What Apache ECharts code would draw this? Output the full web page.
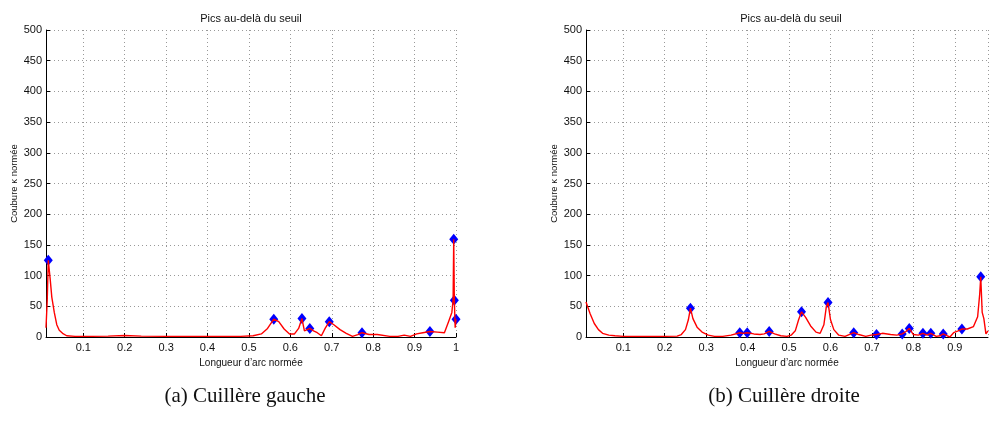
<!DOCTYPE html>
<html>
<head>
<meta charset="utf-8">
<script src="https://cdn.jsdelivr.net/npm/echarts@6/dist/echarts.min.js"></script>
<style>
  html, body { margin: 0; padding: 0; background: #fff; }
  #chart { width: 990px; height: 421px; }
</style>
</head>
<body>
<div id="chart"></div>
<script>
// Cuillère gauche : courbe de courbure normée
const leftArc = [0.010, 0.013, 0.0155, 0.020, 0.024, 0.030, 0.036, 0.042, 0.050, 0.060, 0.080, 0.120, 0.160, 0.200, 0.240, 0.300, 0.400, 0.480, 0.510, 0.530, 0.545, 0.560, 0.572, 0.585, 0.598, 0.610, 0.620, 0.628, 0.634, 0.638, 0.647, 0.656, 0.665, 0.675, 0.684, 0.694, 0.705, 0.720, 0.735, 0.750, 0.763, 0.773, 0.790, 0.810, 0.840, 0.860, 0.875, 0.890, 0.905, 0.920, 0.937, 0.955, 0.972, 0.982, 0.990, 0.993, 0.9945, 0.996, 0.998, 1.0]
const leftCurv = [15, 60, 125, 95, 65, 40, 20, 11, 6, 2, 1, 1, 1.5, 2.5, 1.5, 1, 1, 1, 2, 5, 14, 29, 25, 13, 5, 5, 14, 30, 10, 8, 14, 10, 7, 2, 14, 25, 20, 12, 6, 1, 4, 7, 4, 4, 1, 1, 3, 1, 5, 7, 9, 8, 7, 25, 40, 60, 159, 60, 15, 29]
const leftPeakArc = [0.0155, 0.560, 0.628, 0.647, 0.694, 0.773, 0.937, 0.9945, 0.996, 1.0]
const leftPeakCurv = [125, 29, 30, 14, 25, 7, 9, 159, 60, 29]

// Cuillère droite
const rightArc = [0.010, 0.020, 0.030, 0.040, 0.050, 0.065, 0.080, 0.100, 0.150, 0.200, 0.230, 0.240, 0.250, 0.257, 0.262, 0.268, 0.278, 0.290, 0.305, 0.320, 0.340, 0.360, 0.381, 0.390, 0.399, 0.415, 0.430, 0.440, 0.452, 0.465, 0.480, 0.495, 0.505, 0.515, 0.523, 0.530, 0.540, 0.552, 0.565, 0.575, 0.584, 0.590, 0.594, 0.600, 0.608, 0.620, 0.635, 0.645, 0.656, 0.668, 0.685, 0.698, 0.711, 0.725, 0.745, 0.760, 0.773, 0.782, 0.790, 0.800, 0.812, 0.823, 0.833, 0.842, 0.855, 0.864, 0.872, 0.882, 0.888, 0.897, 0.908, 0.917, 0.930, 0.945, 0.955, 0.960, 0.9625, 0.966, 0.970, 0.975, 0.980]
const rightCurv = [57, 38, 22, 12, 6, 3, 2, 1, 1, 1, 1.5, 4, 12, 28, 47, 30, 16, 8, 3, 1, 1, 3, 7, 6, 7, 5, 4, 5, 9, 5, 2, 1, 3, 10, 28, 41, 32, 18, 8, 6, 20, 50, 56, 28, 12, 3, 1, 4, 7, 4, 1, 3, 4, 6, 4, 3, 5, 9, 14, 4, 3, 6, 3, 6, 1, 2, 5, 2, 0, 7, 10, 13, 13, 17, 33, 70, 98, 40, 30, 5, 10]
const rightPeakArc = [0.262, 0.381, 0.399, 0.452, 0.530, 0.594, 0.656, 0.711, 0.773, 0.790, 0.823, 0.842, 0.872, 0.917, 0.9625]
const rightPeakCurv = [47, 7, 7, 9, 41, 56, 7, 4, 5, 14, 6, 6, 5, 13, 98]

const titleText = 'Pics au-delà du seuil'
const xName = 'Longueur d\u2019arc normée'
const yName = 'Coubure \u03ba normée'
const captions = ['(a) Cuillère gauche', '(b) Cuillère droite']

const sans = 'Liberation Sans, Helvetica, Arial, sans-serif'
const zip = (xs, ys) => xs.map((x, i) => [x, ys[i]])

function xAxis(gridIndex, max) {
  return {
    type: 'value',
    gridIndex: gridIndex,
    min: 0.01,
    max: max,
    splitNumber: 10,
    name: xName,
    nameLocation: 'middle',
    nameGap: 20,
    nameTextStyle: { fontFamily: sans, fontSize: 10, color: '#111' },
    axisLine: { onZero: false, lineStyle: { color: '#000', width: 1 } },
    axisTick: { inside: true, length: 4, lineStyle: { color: '#000' } },
    axisLabel: { showMinLabel: false, showMaxLabel: max === 1, margin: 5, fontFamily: sans, fontSize: 11, color: '#111' },
    splitLine: { show: true, lineStyle: { color: '#999', type: [1, 3], width: 1 } }
  }
}

function yAxis(gridIndex) {
  return {
    type: 'value',
    gridIndex: gridIndex,
    min: 0,
    max: 500,
    interval: 50,
    name: yName,
    nameLocation: 'middle',
    nameGap: 26,
    nameTextStyle: { fontFamily: sans, fontSize: 9.5, color: '#111' },
    axisLine: { show: true, lineStyle: { color: '#000', width: 1 } },
    axisTick: { show: true, inside: true, length: 4, lineStyle: { color: '#000' } },
    axisLabel: { margin: 4, fontFamily: sans, fontSize: 11, color: '#111' },
    splitLine: { show: true, lineStyle: { color: '#999', type: [1, 3], width: 1 } }
  }
}

function curve(i, xs, ys) {
  return {
    type: 'line',
    xAxisIndex: i,
    yAxisIndex: i,
    data: zip(xs, ys),
    showSymbol: false,
    z: 3,
    lineStyle: { color: '#ff0000', width: 1.4 }
  }
}

function peaks(i, xs, ys) {
  return {
    type: 'scatter',
    xAxisIndex: i,
    yAxisIndex: i,
    data: zip(xs, ys),
    symbol: 'diamond',
    symbolSize: [9, 11],
    z: 2,
    itemStyle: { color: '#0000ff', opacity: 1 }
  }
}

const chart = echarts.init(document.getElementById('chart'))
chart.setOption({
  animation: false,
  backgroundColor: '#fff',
  title: [
    { text: titleText, left: 251, top: 13, textAlign: 'center', padding: 0, textStyle: { fontFamily: sans, fontSize: 11, fontWeight: 'normal', color: '#111' } },
    { text: titleText, left: 791, top: 13, textAlign: 'center', padding: 0, textStyle: { fontFamily: sans, fontSize: 11, fontWeight: 'normal', color: '#111' } },
    { text: captions[0], left: 245, top: 386, textAlign: 'center', padding: 0, textStyle: { fontFamily: 'Liberation Serif, serif', fontSize: 21, fontWeight: 'normal', color: '#111' } },
    { text: captions[1], left: 784, top: 386, textAlign: 'center', padding: 0, textStyle: { fontFamily: 'Liberation Serif, serif', fontSize: 21, fontWeight: 'normal', color: '#111' } }
  ],
  grid: [
    { left: 46, top: 30, width: 410, height: 307 },
    { left: 586, top: 30, width: 402, height: 307 }
  ],
  xAxis: [xAxis(0, 1), xAxis(1, 0.98)],
  yAxis: [yAxis(0), yAxis(1)],
  series: [
    peaks(0, leftPeakArc, leftPeakCurv),
    curve(0, leftArc, leftCurv),
    peaks(1, rightPeakArc, rightPeakCurv),
    curve(1, rightArc, rightCurv)
  ]
})
</script>
</body>
</html>
